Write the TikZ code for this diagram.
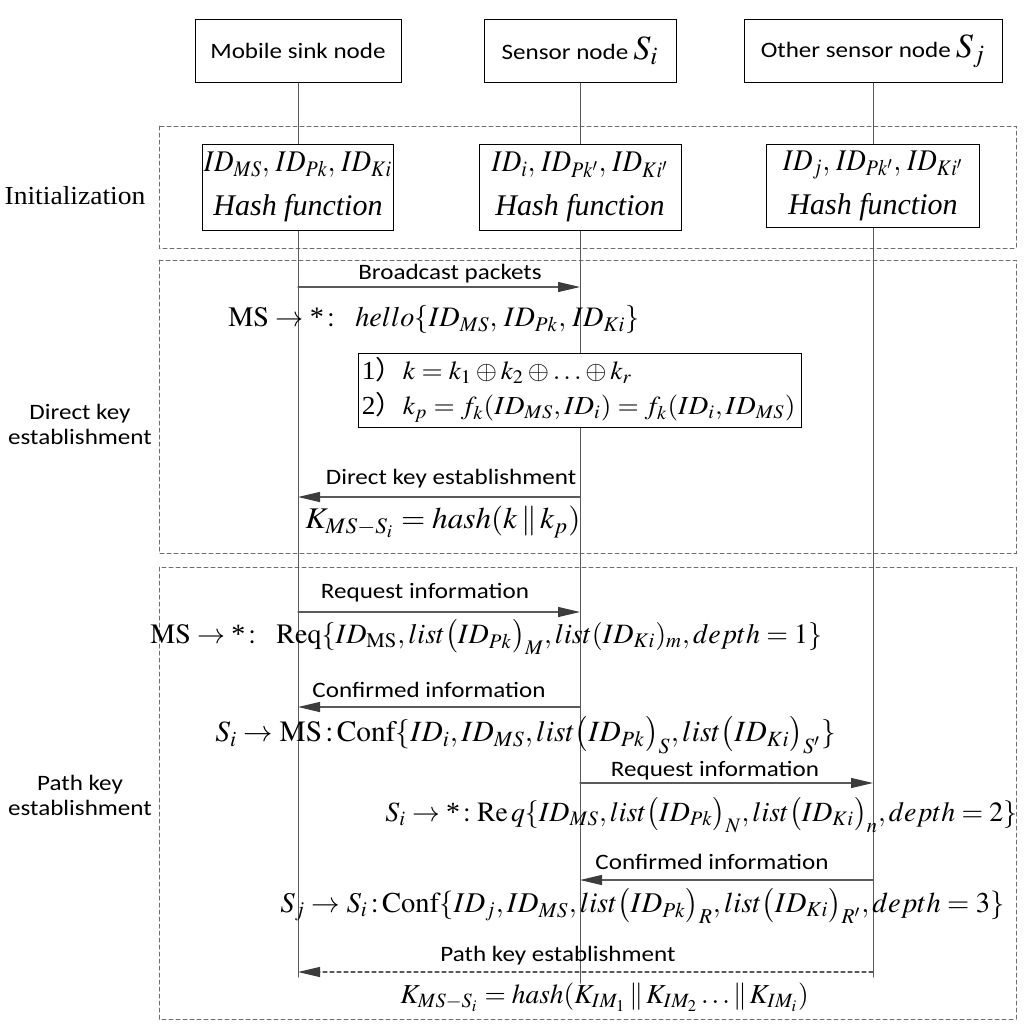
\documentclass[tikz,border=0pt]{standalone}
\usepackage{mathptmx}
\usepackage{fontspec}
\usepackage{graphicx}
\setmainfont{Liberation Serif}
\newfontfamily\sansf{Carlito}
\newfontfamily\cjk{Noto Sans CJK SC}
\usetikzlibrary{arrows.meta,positioning,calc}
\definecolor{sqline}{HTML}{5A5A5A}
\definecolor{sqhead}{HTML}{3C3C3C}
\definecolor{sqdash}{HTML}{6E6E6E}
\newcommand{\wx}[2][1.14]{\scalebox{#1}[1]{#2}}
\newcommand{\st}{\mbox{*}}

\begin{document}
\begin{tikzpicture}[
  x=0.5pt, y=-0.5pt,
  >=Latex,
  line cap=round,
  actor/.style={draw=black, line width=0.5pt, fill=white, minimum height=31.5pt, inner sep=0pt,
    font=\sansf\fontsize{11}{13}\selectfont},
  keybox/.style={draw=black, line width=0.5pt, fill=white, inner sep=0pt, align=center,
    font=\fontsize{15}{22}\selectfont},
  phase/.style={draw=sqdash, line width=0.5pt, dash pattern=on 2pt off 1.5pt},
  life/.style={draw=sqline, line width=0.5pt},
  msg/.style={draw=sqline, line width=0.6pt, -{Triangle[length=11pt, width=5pt, color=sqhead]}},
  lab/.style={inner sep=0pt, font=\sansf\fontsize{11}{13}\selectfont},
  sidelab/.style={inner sep=0pt, align=center, font=\sansf\fontsize{11}{12.5}\selectfont},
  eq/.style={inner sep=0pt, anchor=west, font=\fontsize{15}{18}\selectfont},
]
\useasboundingbox (0,0) rectangle (1024,1030);

% ---------- phases ----------
\draw[phase] (159,126) rectangle (1016,248);
\draw[phase] (159,260) rectangle (1016,553);
\draw[phase] (159,567) rectangle (1016,1019);

\node[sidelab, font=\fontsize{13}{15}\selectfont] (init) at (75,196) {\wx[1.06]{Initialization}};
\node[sidelab] (direct) at (80,424) {\wx{Direct key}\\\wx{establishment}};
\node[sidelab] (path) at (80,795) {\wx{Path key}\\\wx{establishment}};

% ---------- lifelines ----------
\coordinate (msE) at (298,977);
\coordinate (siE) at (580,983);
\coordinate (sjE) at (873,977);
\node[actor, minimum width=103pt] (ms) at (298,51) {\wx{Mobile sink node}};
\node[actor, minimum width=96pt] (si) at (580,51) {\wx{Sensor node} {\fontsize{17}{17}\selectfont$S_i$}};
\node[actor, minimum width=129pt] (sj) at (873,51) {\wx{Other sensor node} {\fontsize{17}{17}\selectfont$S_j$}};
\draw[life] (ms.south) -- (msE);
\draw[life] (si.south) -- (siE);
\draw[life] (sj.south) -- (sjE);

% ---------- initialization ----------
\node[keybox, minimum width=95.5pt, minimum height=43pt] (msinit) at (298,187)
  {\wx[0.9]{$ID_{MS},\, ID_{Pk},\, ID_{Ki}$}\\\textit{Hash function}};
\node[keybox, minimum width=101pt, minimum height=43pt] (siinit) at (580,187)
  {\wx[0.9]{$ID_{i},\, ID_{Pk'},\, ID_{Ki'}$}\\\textit{Hash function}};
\node[keybox, minimum width=106.5pt, minimum height=41.5pt] (sjinit) at (873,185.5)
  {\wx[0.9]{$ID_{j},\, ID_{Pk'},\, ID_{Ki'}$}\\\textit{Hash function}};

% ---------- direct key establishment ----------
\coordinate (m1) at (0,287);
\coordinate (m2) at (0,497);
\draw[msg] (ms |- m1) -- (si |- m1);
\node[lab] (t1) at (450,274) {\wx{Broadcast packets}};
\node[eq, font=\fontsize{14.1}{18}\selectfont] (hello) at (228,320)
  {$\mathrm{MS}\rightarrow\st\!:\ \ hello\{ID_{MS},\, ID_{Pk},\, ID_{Ki}\}$};
\node[draw=black, line width=0.5pt, fill=white, minimum width=221.5pt, minimum height=37pt,
  inner sep=0pt] (calc) at (579.5,390) {};
\node[inner sep=0pt, anchor=west, align=left, font=\fontsize{13}{17.5}\selectfont] (calctxt)
  at ([xshift=2pt]calc.west)
  {\wx[1.05]{1{\cjk ）}$k = k_1 \oplus k_2 \oplus \ldots \oplus k_r$}\\
   \wx[1.05]{2{\cjk ）}$k_p = f_k(ID_{MS}, ID_i) = f_k(ID_i, ID_{MS})$}};
\draw[msg] (si |- m2) -- (ms |- m2);
\node[lab] (t2) at (451,479) {\wx{Direct key establishment}};
\node[eq] (kdirect) at (305,522) {\wx[1.04]{$K_{MS-S_i} = hash(k \,\|\, k_p)$}};

% ---------- path key establishment ----------
\coordinate (m3) at (0,612);
\coordinate (m4) at (0,707);
\coordinate (m5) at (0,783);
\coordinate (m6) at (0,880);
\coordinate (m7) at (0,972);
\draw[msg] (ms |- m3) -- (si |- m3);
\node[lab] (t3) at (425,593) {\wx{Request information}};
\node[eq, font=\fontsize{14}{18}\selectfont] (req1) at (150,637)
  {$\mathrm{MS}\rightarrow\st\!:\ \ \mathrm{Req}\{ID_{\mathrm{MS}}, list\big(ID_{Pk}\big)_M, list(ID_{Ki})_m, depth=1\}$};
\draw[msg] (si |- m4) -- (ms |- m4);
\node[lab] (t4) at (429,690) {\wx{Confirmed information}};
\node[eq, font=\fontsize{14.7}{18}\selectfont] (conf1) at (215,735)
  {$S_i\rightarrow\mathrm{MS}\!:\!\mathrm{Conf}\{ID_i, ID_{MS}, list\big(ID_{Pk}\big)_S, list\big(ID_{Ki}\big)_{S'}\}$};
\draw[msg] (si |- m5) -- (sj |- m5);
\node[lab] (t5) at (715,771) {\wx{Request information}};
\node[eq, font=\fontsize{13.9}{18}\selectfont] (req2) at (385,815)
  {$S_i\rightarrow\st\!:\mathrm{Re}\,q\{ID_{MS}, list\big(ID_{Pk}\big)_N, list\big(ID_{Ki}\big)_n, depth=2\}$};
\draw[msg] (sj |- m6) -- (si |- m6);
\node[lab] (t6) at (712,862) {\wx{Confirmed information}};
\node[eq, font=\fontsize{14.3}{18}\selectfont] (conf2) at (280,906)
  {$S_j\rightarrow S_i\!:\!\mathrm{Conf}\{ID_j, ID_{MS}, list\big(ID_{Pk}\big)_R, list\big(ID_{Ki}\big)_{R'}, depth=3\}$};
\draw[msg, dash pattern=on 2pt off 1.5pt] (sj |- m7) -- (ms |- m7);
\node[lab] (t7) at (558,956) {\wx{Path key establishment}};
\node[eq, font=\fontsize{13.7}{18}\selectfont] (kpath) at (400,997)
  {$K_{MS-S_i} = hash(K_{IM_1} \,\|\, K_{IM_2} \ldots \| \, K_{IM_i})$};
\end{tikzpicture}
\end{document}
